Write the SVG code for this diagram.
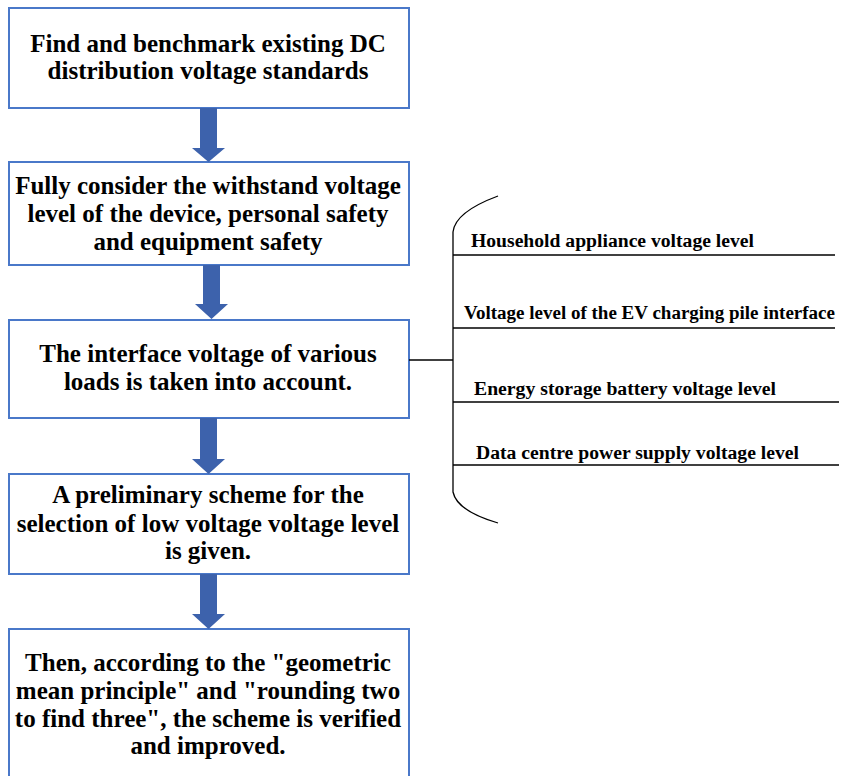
<svg xmlns="http://www.w3.org/2000/svg" width="850" height="776" viewBox="0 0 850 776">
<style>
.box{fill:#fff;stroke:#4A78C9;stroke-width:2}
.t{font-family:"Liberation Serif","Times New Roman",serif;font-weight:bold;font-size:25px;fill:#000;text-anchor:middle}
.s{font-family:"Liberation Serif","Times New Roman",serif;font-weight:bold;font-size:18px;fill:#000}
.arr{fill:#3D62AC}
.ln{stroke:#000;stroke-width:1.3;fill:none}
</style>
<rect width="850" height="776" fill="#fff"/>
<g id="n1"><rect class="box" x="9" y="8" width="400" height="100"/>
<text class="t" x="208" y="52">Find and benchmark existing DC</text>
<text class="t" x="208" y="79">distribution voltage standards</text></g>
<g id="n2"><rect class="box" x="9" y="162" width="400" height="103"/>
<text class="t" x="208" y="194">Fully consider the withstand voltage</text>
<text class="t" x="208" y="222">level of the device, personal safety</text>
<text class="t" x="208" y="250">and equipment safety</text></g>
<g id="n3"><rect class="box" x="9" y="320" width="400" height="98"/>
<text class="t" x="208" y="362">The interface voltage of various</text>
<text class="t" x="208" y="390">loads is taken into account.</text></g>
<g id="n4"><rect class="box" x="9" y="474" width="400" height="100"/>
<text class="t" x="208" y="503">A preliminary scheme for the</text>
<text class="t" x="208" y="532">selection of low voltage voltage level</text>
<text class="t" x="208" y="559">is given.</text></g>
<g id="n5"><rect class="box" x="9" y="629" width="400" height="160"/>
<text class="t" x="208" y="671">Then, according to the "geometric</text>
<text class="t" x="208" y="699">mean principle" and "rounding two</text>
<text class="t" x="208" y="727">to find three", the scheme is verified</text>
<text class="t" x="208" y="754">and improved.</text></g>
<g id="connectors">
<polygon class="arr" points="200,108 217,108 217,148 225,148 208.5,162 192,148 200,148"/>
<polygon class="arr" points="203,265 220,265 220,304 228,304 211.5,319 195,304 203,304"/>
<polygon class="arr" points="200,418 217,418 217,459 225,459 208.5,474 192,459 200,459"/>
<polygon class="arr" points="200,574 217,574 217,614 225,614 208.5,629 192,614 200,614"/>
<line class="ln" x1="409" y1="360" x2="453" y2="360"/>
<path class="ln" d="M498,196 Q455,212 453,232 L453,492 Q457,511 498,523"/>
<line class="ln" x1="453" y1="255" x2="835" y2="255"/>
<line class="ln" x1="453" y1="328" x2="835" y2="328"/>
<line class="ln" x1="453" y1="402" x2="839" y2="402"/>
<line class="ln" x1="453" y1="465" x2="839" y2="465"/>
</g>
<g id="labels">
<text class="s" x="471" y="247" textLength="283" lengthAdjust="spacingAndGlyphs">Household appliance voltage level</text>
<text class="s" x="464" y="319" textLength="371" lengthAdjust="spacingAndGlyphs">Voltage level of the EV charging pile interface</text>
<text class="s" x="474" y="395" textLength="302" lengthAdjust="spacingAndGlyphs">Energy storage battery voltage level</text>
<text class="s" x="476" y="459" textLength="323" lengthAdjust="spacingAndGlyphs">Data centre power supply voltage level</text>
</g>
</svg>
